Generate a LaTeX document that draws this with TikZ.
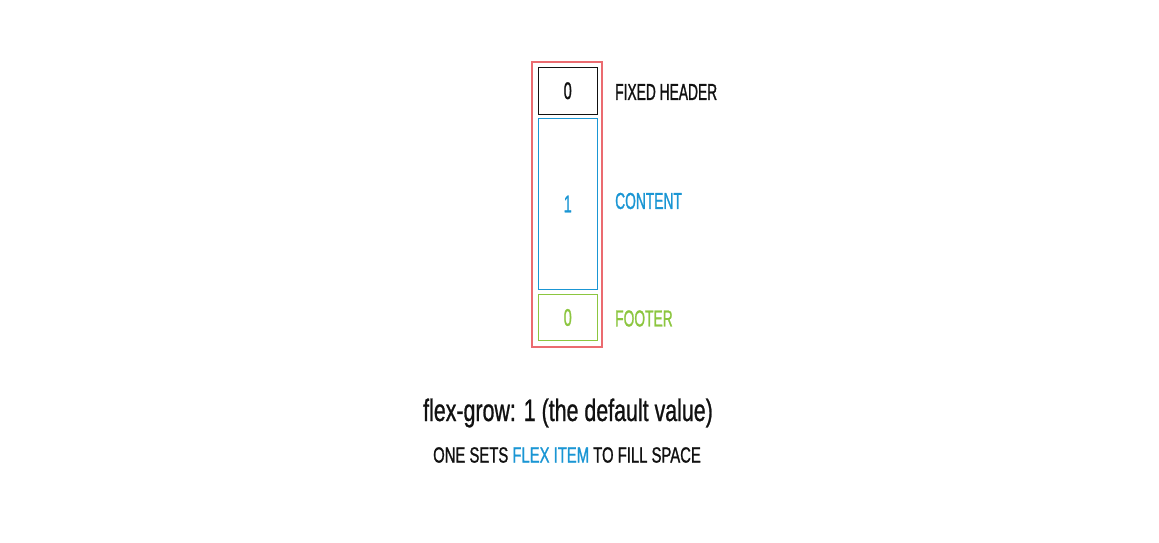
\documentclass[tikz,border=0pt]{standalone}
\usepackage{fontspec}
\setmainfont[FakeStretch=0.6,FakeBold=1]{Liberation Sans}
\newfontfamily\lblfont[FakeStretch=0.6,FakeBold=1]{Liberation Sans}
\newfontfamily\titlefont[FakeStretch=0.69,FakeBold=0.8]{Liberation Sans}
\newfontfamily\subfont[FakeStretch=0.675,FakeBold=1]{Liberation Sans}
\definecolor{fxred}{HTML}{EB6B70}
\definecolor{fxblue}{HTML}{1A96D4}
\definecolor{fxgreen}{HTML}{8CC63F}
\definecolor{fxblack}{HTML}{111111}
\begin{document}
\begin{tikzpicture}[x=1pt,y=-1pt,
  itembox/.style={draw, line width=1pt, inner sep=0pt, anchor=north west},
  lbl/.style={anchor=west, font=\lblfont\fontsize{23}{25}\selectfont, inner sep=0pt},
  num/.style={font=\lblfont\fontsize{24}{26}\selectfont, inner sep=0pt}]
\useasboundingbox[fill=white] (0,0) rectangle (1159,543);
\draw[fxred, line width=1.6pt] (532,62) rectangle (602,347);
\node[itembox, fxblack, minimum width=59.5pt, minimum height=46.5pt] (hdr) at (537.5,67) {};
\node[itembox, fxblue, minimum width=59.5pt, minimum height=171pt] (cnt) at (537.5,118) {};
\node[itembox, fxgreen, minimum width=59.5pt, minimum height=46pt] (ftr) at (537.5,294) {};
\node[num, text=fxblack] (hnum) at (hdr.center) {0};
\node[num, text=fxblue] (cnum) at (cnt.center) {1};
\node[num, text=fxgreen] (fnum) at (ftr.center) {0};
\node[lbl, text=fxblack] (hl) at (615,92) {FIXED HEADER};
\node[lbl, text=fxblue] (cl) at (615,201) {CONTENT};
\node[lbl, text=fxgreen] (fl) at (615,318.5) {FOOTER};
\node[font=\titlefont\fontsize{31}{33}\selectfont, inner sep=0pt, text=fxblack] (title) at (568,413) {flex-grow: 1 (the default value)};
\node[font=\subfont\fontsize{22}{24}\selectfont, inner sep=0pt, text=fxblack] (sub) at (567,455) {ONE SETS \textcolor{fxblue}{FLEX ITEM} TO FILL SPACE};
\end{tikzpicture}
\end{document}
